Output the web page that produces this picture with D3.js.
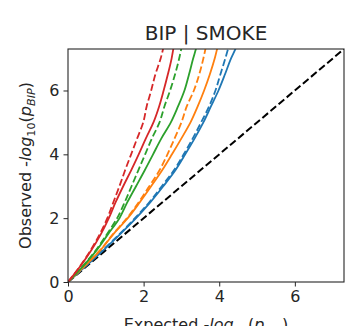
<!DOCTYPE html>
<html><head><meta charset="utf-8">
<script src="https://cdn.jsdelivr.net/npm/d3@7"></script>
<style>body{margin:0;background:#fff}svg{display:block}text{font-family:"DejaVu Sans",sans-serif;fill:#262626}</style>
</head><body><div id="c"></div>
<script>
const title = "BIP | SMOKE";
const xTicks = [0,2,4,6];
const yTicks = [0,2,4,6];
const domainMax = 7.3;
// observed -log10(p) levels shared by all series
const observed     = [0, 0.5, 1, 1.5, 2, 2.5, 3, 3.5, 4, 4.5, 5, 5.5, 6, 6.5, 7, 7.33, 7.9];
// expected -log10(p) at each observed level
const blueSolid    = [0, 0.47, 0.94, 1.38, 1.8, 2.18, 2.52, 2.84, 3.1, 3.35, 3.58, 3.78, 3.98, 4.15, 4.31, 4.44, 4.62];
const blueDashed   = [0, 0.46, 0.92, 1.36, 1.77, 2.15, 2.48, 2.8, 3.06, 3.3, 3.52, 3.73, 3.9, 4.03, 4.16, 4.24, 4.38];
const orangeSolid  = [0, 0.44, 0.86, 1.2, 1.58, 1.9, 2.2, 2.49, 2.75, 3.0, 3.24, 3.43, 3.6, 3.75, 3.88, 3.95, 4.08];
const orangeDashed = [0, 0.43, 0.85, 1.19, 1.56, 1.87, 2.15, 2.42, 2.63, 2.82, 3.0, 3.14, 3.33, 3.47, 3.58, 3.64, 3.74];
const greenSolid   = [0, 0.4, 0.76, 1.06, 1.36, 1.57, 1.8, 2.03, 2.25, 2.47, 2.72, 2.91, 3.08, 3.2, 3.31, 3.39, 3.5];
const greenDashed  = [0, 0.39, 0.74, 1.03, 1.3, 1.5, 1.68, 1.86, 2.04, 2.22, 2.42, 2.55, 2.7, 2.83, 2.94, 3.0, 3.1];
const redSolid     = [0, 0.33, 0.62, 0.87, 1.08, 1.26, 1.46, 1.67, 1.87, 2.06, 2.26, 2.41, 2.53, 2.64, 2.74, 2.79, 2.88];
const redDashed    = [0, 0.32, 0.6, 0.84, 1.04, 1.2, 1.36, 1.51, 1.67, 1.83, 1.99, 2.08, 2.2, 2.31, 2.45, 2.52, 2.62];

const series = [
  {e: blueSolid, c:"#1f77b4", dash:false},
  {e: blueDashed, c:"#1f77b4", dash:true},
  {e: orangeSolid, c:"#ff7f0e", dash:false},
  {e: orangeDashed, c:"#ff7f0e", dash:true},
  {e: greenSolid, c:"#2ca02c", dash:false},
  {e: greenDashed, c:"#2ca02c", dash:true},
  {e: redSolid, c:"#d62728", dash:false},
  {e: redDashed, c:"#d62728", dash:true}
];

const W=347,H=326, L=68, R=344, T=49, B=282;
const svg = d3.select("#c").append("svg").attr("width",W).attr("height",H);
const x = d3.scaleLinear().domain([0,domainMax]).range([L,R]);
const y = d3.scaleLinear().domain([0,domainMax]).range([B,T]);

svg.append("clipPath").attr("id","clip").append("rect")
  .attr("x",L).attr("y",T).attr("width",R-L).attr("height",B-T);
const g = svg.append("g").attr("clip-path","url(#clip)");
const line = d3.line().x(d=>x(d[0])).y(d=>y(d[1]));

g.append("path").datum([[0,0],[domainMax,domainMax]]).attr("d",line)
  .attr("fill","none").attr("stroke","#000").attr("stroke-width",2)
  .attr("stroke-dasharray","7.4,3.2");

const sline = d3.line().x(d=>x(d[0])).y(d=>y(d[1])).curve(d3.curveMonotoneY);
series.forEach(s=>{
  const pts = s.e.map((v,i)=>[v, observed[i]]);
  g.append("path").datum(pts).attr("d",sline).attr("fill","none")
   .attr("stroke",s.c).attr("stroke-width",1.8)
   .attr("stroke-dasharray", s.dash ? "7,3" : null);
});

const fs = 16;
const xa = svg.append("g").attr("transform",`translate(0,${B})`)
  .call(d3.axisBottom(x).tickValues(xTicks).tickSize(4.5).tickPadding(4).tickFormat(d3.format("d")));
const ya = svg.append("g").attr("transform",`translate(${L},0)`)
  .call(d3.axisLeft(y).tickValues(yTicks).tickSize(4.5).tickPadding(4).tickFormat(d3.format("d")));
[xa,ya].forEach(a=>{
  a.select(".domain").remove();
  a.selectAll("text").attr("font-size",fs).attr("font-family","DejaVu Sans").attr("fill","#262626");
  a.selectAll("line").attr("stroke","#262626").attr("stroke-width",1);
});
svg.append("rect").attr("x",L).attr("y",T).attr("width",R-L).attr("height",B-T)
  .attr("fill","none").attr("stroke","#262626").attr("stroke-width",1.1);

svg.append("text").attr("x",(L+R)/2).attr("y",T-9).attr("text-anchor","middle")
  .attr("font-size",20).text(title);

function mathLabel(t, pre, sub){
  t.append("tspan").text(pre+" ");
  t.append("tspan").attr("font-style","italic").text("-log");
  t.append("tspan").attr("font-size",fs*0.7).attr("dy",4).text("10");
  t.append("tspan").attr("dy",-4).text("(");
  t.append("tspan").attr("font-style","italic").text("p");
  t.append("tspan").attr("font-size",fs*0.7).attr("font-style","italic").attr("dy",4).text(sub);
  t.append("tspan").attr("dy",-4).text(")");
}
const xl = svg.append("text").attr("x",(L+R)/2).attr("y",B+48).attr("text-anchor","middle").attr("font-size",fs);
mathLabel(xl,"Expected","BIP");
const yl = svg.append("text").attr("transform",`translate(31,${(T+B)/2}) rotate(-90)`).attr("text-anchor","middle").attr("font-size",fs);
mathLabel(yl,"Observed","BIP");
</script></body></html>
